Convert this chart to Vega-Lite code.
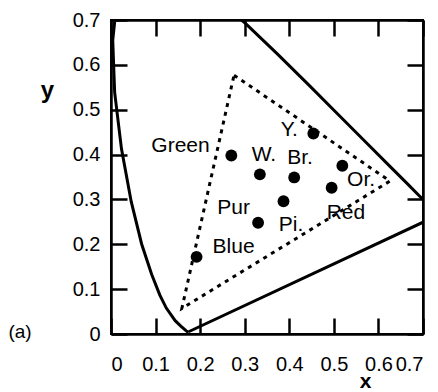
{
  "$schema": "https://vega.github.io/schema/vega-lite/v6.json",
  "width": 312,
  "height": 314,
  "autosize": {"type": "none"},
  "padding": {"left": 111, "top": 20, "right": 15, "bottom": 58},
  "background": "white",
  "config": {
    "view": {"stroke": "black", "strokeWidth": 2},
    "font": "Liberation Sans",
    "axis": {
      "grid": false,
      "domainColor": "black",
      "domainWidth": 2.5,
      "tickColor": "black",
      "tickWidth": 2.5,
      "tickSize": -16,
      "labelColor": "black",
      "labelFontSize": 20,
      "labelFont": "Liberation Sans",
      "titleColor": "black",
      "titleFont": "Liberation Sans",
      "titleFontWeight": "bold",
      "titleFontSize": 24
    }
  },
  "datasets": {
    "locus": [
      {"i": 0, "x": 0.1741, "y": 0.0050},
      {"i": 1, "x": 0.1714, "y": 0.0051},
      {"i": 2, "x": 0.1689, "y": 0.0069},
      {"i": 3, "x": 0.1644, "y": 0.0109},
      {"i": 4, "x": 0.1566, "y": 0.0177},
      {"i": 5, "x": 0.1440, "y": 0.0297},
      {"i": 6, "x": 0.1241, "y": 0.0578},
      {"i": 7, "x": 0.1096, "y": 0.0868},
      {"i": 8, "x": 0.0913, "y": 0.1327},
      {"i": 9, "x": 0.0687, "y": 0.2007},
      {"i": 10, "x": 0.0454, "y": 0.2950},
      {"i": 11, "x": 0.0235, "y": 0.4127},
      {"i": 12, "x": 0.0082, "y": 0.5384},
      {"i": 13, "x": 0.0039, "y": 0.6548},
      {"i": 14, "x": 0.0139, "y": 0.7502},
      {"i": 15, "x": 0.0743, "y": 0.8338},
      {"i": 16, "x": 0.1547, "y": 0.8059},
      {"i": 17, "x": 0.2296, "y": 0.7543},
      {"i": 18, "x": 0.3016, "y": 0.6923},
      {"i": 19, "x": 0.3731, "y": 0.6245},
      {"i": 20, "x": 0.4441, "y": 0.5547},
      {"i": 21, "x": 0.5125, "y": 0.4866},
      {"i": 22, "x": 0.5752, "y": 0.4242},
      {"i": 23, "x": 0.6270, "y": 0.3725},
      {"i": 24, "x": 0.6658, "y": 0.3340},
      {"i": 25, "x": 0.6915, "y": 0.3083},
      {"i": 26, "x": 0.7079, "y": 0.2920},
      {"i": 27, "x": 0.7190, "y": 0.2809},
      {"i": 28, "x": 0.7347, "y": 0.2653},
      {"i": 29, "x": 0.1741, "y": 0.0050}
    ],
    "tri": [
      {"i": 0, "x": 0.276, "y": 0.577},
      {"i": 1, "x": 0.626, "y": 0.341},
      {"i": 2, "x": 0.159, "y": 0.057},
      {"i": 3, "x": 0.276, "y": 0.577}
    ],
    "pts": [
      {"label": "Green", "x": 0.270, "y": 0.398, "lx": 0.156, "ly": 0.418},
      {"label": "Y.", "x": 0.454, "y": 0.447, "lx": 0.400, "ly": 0.455},
      {"label": "W.", "x": 0.334, "y": 0.356, "lx": 0.343, "ly": 0.399},
      {"label": "Br.", "x": 0.411, "y": 0.349, "lx": 0.424, "ly": 0.392},
      {"label": "Or.", "x": 0.519, "y": 0.375, "lx": 0.561, "ly": 0.343},
      {"label": "Red", "x": 0.495, "y": 0.326, "lx": 0.527, "ly": 0.270},
      {"label": "Pi.", "x": 0.387, "y": 0.296, "lx": 0.404, "ly": 0.243},
      {"label": "Pur", "x": 0.330, "y": 0.248, "lx": 0.275, "ly": 0.281},
      {"label": "Blue", "x": 0.192, "y": 0.172, "lx": 0.275, "ly": 0.194}
    ],
    "note": [
      {"x": -0.204, "y": 0.004, "text": "(a)"}
    ]
  },
  "layer": [
    {
      "data": {"name": "locus"},
      "mark": {"type": "line", "color": "black", "strokeWidth": 3, "clip": true},
      "encoding": {
        "x": {"field": "x", "type": "quantitative", "scale": {"domain": [0, 0.7], "nice": false},
              "axis": {"orient": "bottom", "values": [0, 0.1, 0.2, 0.3, 0.4, 0.5, 0.6, 0.7], "format": "~g", "labelPadding": 36, "title": "x", "titleFontSize": 21, "titleX": 254, "titleY": 53, "titleBaseline": "alphabetic", "titleAlign": "center"}},
        "y": {"field": "y", "type": "quantitative", "scale": {"domain": [0, 0.7], "nice": false},
              "axis": {"orient": "left", "values": [0, 0.1, 0.2, 0.3, 0.4, 0.5, 0.6, 0.7], "format": "~g", "labelPadding": 27, "title": "y", "titleAngle": 0, "titleX": -64, "titleY": 70, "titleBaseline": "middle", "titleAlign": "center"}},
        "order": {"field": "i", "type": "quantitative"}
      }
    },
    {
      "data": {"name": "tri"},
      "mark": {"type": "line", "color": "black", "strokeWidth": 3, "strokeDash": [4, 5], "clip": true},
      "encoding": {
        "x": {"field": "x", "type": "quantitative", "scale": {"domain": [0, 0.7], "nice": false},
              "axis": {"orient": "top", "values": [0, 0.1, 0.2, 0.3, 0.4, 0.5, 0.6, 0.7], "labels": false, "title": null}},
        "y": {"field": "y", "type": "quantitative", "scale": {"domain": [0, 0.7], "nice": false},
              "axis": {"orient": "right", "values": [0, 0.1, 0.2, 0.3, 0.4, 0.5, 0.6, 0.7], "labels": false, "title": null}},
        "order": {"field": "i", "type": "quantitative"}
      }
    },
    {
      "data": {"name": "pts"},
      "mark": {"type": "circle", "color": "black", "opacity": 1, "size": 140},
      "encoding": {
        "x": {"field": "x", "type": "quantitative", "axis": null},
        "y": {"field": "y", "type": "quantitative", "axis": null}
      }
    },
    {
      "data": {"name": "pts"},
      "mark": {"type": "text", "color": "black", "fontSize": 21, "font": "Liberation Sans", "align": "center", "baseline": "middle"},
      "encoding": {
        "x": {"field": "lx", "type": "quantitative", "axis": null},
        "y": {"field": "ly", "type": "quantitative", "axis": null},
        "text": {"field": "label"}
      }
    },
    {
      "data": {"name": "note"},
      "mark": {"type": "text", "color": "black", "fontSize": 19, "font": "Liberation Sans", "align": "center", "baseline": "middle"},
      "encoding": {
        "x": {"field": "x", "type": "quantitative", "axis": null},
        "y": {"field": "y", "type": "quantitative", "axis": null},
        "text": {"field": "text"}
      }
    }
  ],
  "resolve": {"axis": {"x": "independent", "y": "independent"}}
}
